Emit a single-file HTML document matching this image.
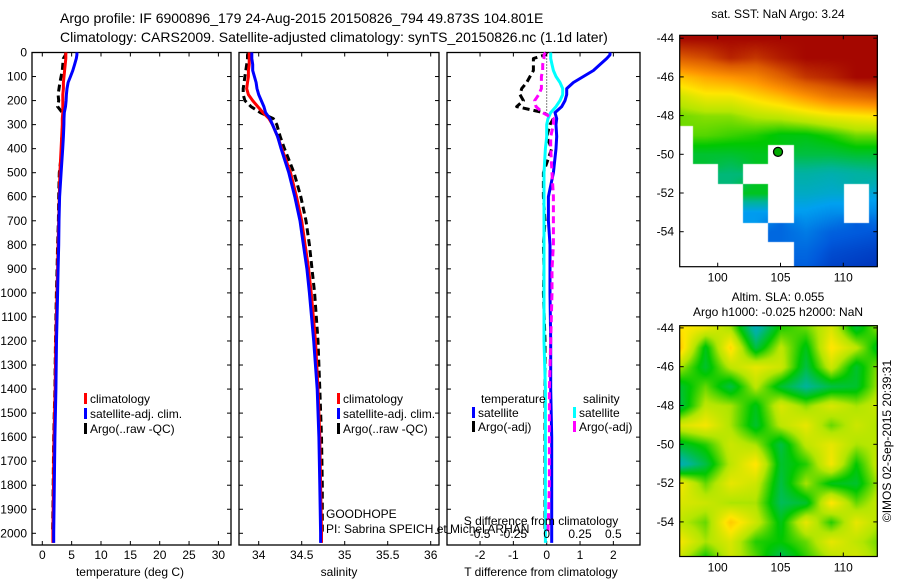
<!DOCTYPE html>
<html><head><meta charset="utf-8">
<style>
body{margin:0;background:#fff;width:900px;height:580px;overflow:hidden;position:relative;font-family:"Liberation Sans",Arial,sans-serif}
svg{position:absolute;left:0;top:0}
canvas{position:absolute}
</style></head>
<body>
<canvas id="sst" width="198" height="232" style="left:680px;top:35px"></canvas>
<canvas id="sla" width="198" height="231" style="left:680px;top:325px"></canvas>
<svg id="chart" width="900" height="580" xmlns="http://www.w3.org/2000/svg" font-family="Liberation Sans, Arial, sans-serif"></svg>
<script>
// ---------- data ----------
const depths = [0,10,25,50,75,100,125,150,175,200,225,250,275,300,350,400,500,600,700,800,900,1000,1200,1400,1600,1800,2000,2040];
const climT  = [4.0,4.0,4.0,3.9,3.8,3.7,3.6,3.6,3.5,3.5,3.5,3.5,3.4,3.4,3.3,3.2,3.0,2.9,2.8,2.7,2.6,2.5,2.3,2.2,2.0,1.9,1.8,1.8];
const satT   = [5.9,5.9,5.8,5.5,5.2,4.8,4.4,4.2,4.1,4.05,3.95,3.75,3.7,3.68,3.6,3.48,3.2,2.95,2.85,2.8,2.7,2.6,2.42,2.32,2.15,2.05,1.95,1.95];
const argoT  = [4.0,3.95,3.6,3.5,3.4,3.2,3.0,2.85,2.7,2.8,2.6,3.4,3.6,3.5,3.3,3.35,2.9,2.8,2.75,2.6,2.52,2.4,2.25,2.15,1.95,1.85,1.75,null];
const climS  = [33.89,33.89,33.89,33.89,33.88,33.88,33.87,33.86,33.88,33.93,33.99,34.05,34.12,34.16,34.22,34.27,34.37,34.44,34.50,34.54,34.58,34.61,34.66,34.69,34.71,34.72,34.73,34.73];
const satS   = [33.92,33.92,33.92,33.93,33.93,33.95,33.97,33.98,34.00,34.03,34.06,34.08,34.13,34.16,34.22,34.26,34.35,34.42,34.48,34.52,34.56,34.59,34.64,34.68,34.70,34.71,34.72,34.72];
const argoS  = [33.88,33.87,33.87,33.86,33.85,33.84,33.83,33.82,33.82,33.84,33.91,34.02,34.17,34.21,34.25,34.30,34.41,34.49,34.55,34.59,34.62,34.65,34.69,34.71,34.73,34.74,34.74,null];
const depthTicks = [0,100,200,300,400,500,600,700,800,900,1000,1100,1200,1300,1400,1500,1600,1700,1800,1900,2000];
const tempTicks = [0,5,10,15,20,25,30];
const salTicks = [34,34.5,35,35.5,36];
const tdiffTicks = [-2,-1,0,1,2];
const sdiffTicks = [-0.5,-0.25,0,0.25,0.5];
const mapLonTicks = [100,105,110];
const mapLatTicks = [-44,-46,-48,-50,-52,-54];
const gridLons = [97,99,101,103,105,107,109,111,113];
const gridLats = [-44,-45,-46,-47,-48,-49,-50,-51,-52,-53,-54,-55,-56];
const N = null;
const sstGrid = [
 [9.5,9.5,9.5,9.5,9.5,9.5,9.5,9.5,9.5],
 [8.6,8.8,9.2,9.0,9.3,9.5,9.5,9.5,9.5],
 [7.3,7.6,7.8,8.0,8.5,9.0,9.2,9.5,9.5],
 [6.5,6.8,6.8,7.1,7.4,7.8,8.2,8.4,8.6],
 [6.0,6.1,6.1,6.3,6.4,6.6,6.8,6.9,7.0],
 [N,5.9,5.8,5.7,5.5,5.5,5.7,6.0,6.0],
 [N,5.3,5.3,5.4,N,5.2,5.2,5.3,5.3],
 [N,N,4.9,N,N,4.6,4.5,4.6,4.7],
 [N,N,N,5.4,N,4.3,4.2,N,4.1],
 [N,N,N,3.8,N,3.8,3.6,N,3.5],
 [N,N,N,N,3.0,3.3,2.9,2.8,2.7],
 [N,N,N,N,N,3.0,2.6,2.5,2.4],
 [N,N,N,N,N,2.8,2.4,2.3,2.2]];
const slaGrid = [
 [0.08,0.06,0.02,-0.12,-0.02,0.0,0.05,-0.05,0.02],
 [0.1,-0.04,0.09,-0.06,0.03,-0.04,0.08,0.03,-0.06],
 [0.02,-0.05,0.03,0.06,0.04,-0.06,0.04,-0.05,0.02],
 [-0.05,0.0,-0.06,0.03,-0.05,-0.1,-0.06,-0.05,0.03],
 [-0.06,0.03,0.02,-0.04,0.05,0.01,0.05,0.02,0.04],
 [0.05,0.07,0.02,-0.05,0.03,0.06,0.0,0.04,0.02],
 [-0.05,-0.02,0.04,0.02,-0.06,0.03,0.06,0.02,0.03],
 [-0.12,-0.06,0.03,0.08,-0.05,-0.02,0.07,-0.03,0.05],
 [0.07,0.0,0.06,0.04,-0.06,0.02,-0.04,-0.05,0.03],
 [0.05,0.04,0.02,0.02,-0.07,-0.05,0.08,0.0,0.04],
 [0.03,0.0,0.1,0.04,-0.04,0.06,-0.02,0.06,0.02],
 [0.07,0.02,0.05,-0.02,-0.03,0.0,0.06,0.03,0.0],
 [0.03,-0.04,0.04,0.0,-0.08,-0.02,0.02,0.05,0.01]];
const argoLon = 104.801, argoLat = -49.873;

// ---------- scales ----------
const Y0=52.5, Y1=545;
const yD = d => Y0 + d*0.2404;
const xT = t => 42.3 + t*5.87;
const xS = s => 258.7 + (s-34)*86;
const xTd = v => 546.7 + v*33.33;
const xSd = v => 546.7 + v*133.3;
const xLon = l => 717.7 + (l-100)*12.56;
const yLat1 = l => 154.3 + (-50-l)*19.35;
const yLat2 = l => 444.3 + (-50-l)*19.4;

const svg = document.getElementById('chart');
const NS='http://www.w3.org/2000/svg';
function mk(tag, attrs, parent){const e=document.createElementNS(NS,tag);for(const k in attrs)e.setAttribute(k,attrs[k]);(parent||svg).appendChild(e);return e;}
function txt(x,y,s,anchor,size){const e=mk('text',{x:x,y:y,'font-size':size||12,'text-anchor':anchor||'start',fill:'#000'});e.textContent=s;return e;}

// titles
let t1=txt(60,23,'Argo profile: IF 6900896_179 24-Aug-2015 20150826_794 49.873S 104.801E','start',14);


let t2=txt(60,42,'Climatology: CARS2009. Satellite-adjusted climatology: synTS_20150826.nc (1.1d later)','start',14);



// panels
const panels=[{x0:32,x1:231,name:'temperature-panel'},{x0:239,x1:439,name:'salinity-panel'},{x0:447,x1:640,name:'difference-panel'}];
panels.forEach(p=>{
  const r=mk('rect',{x:p.x0,y:Y0,width:p.x1-p.x0,height:Y1-Y0,fill:'#fff',stroke:'#000','stroke-width':1.3});
  
  
  depthTicks.forEach(d=>{
    mk('line',{x1:p.x0,x2:p.x0+4,y1:yD(d),y2:yD(d),stroke:'#000'});
    mk('line',{x1:p.x1-4,x2:p.x1,y1:yD(d),y2:yD(d),stroke:'#000'});
  });
});
depthTicks.forEach(d=>{
  const e=txt(27,yD(d)+4,String(d),'end',12);
  
  
});
function xTicks(arr,fx,labelY,fmt){
  arr.forEach(v=>{const x=fx(v);
    mk('line',{x1:x,x2:x,y1:Y0,y2:Y0+4,stroke:'#000'});
    mk('line',{x1:x,x2:x,y1:Y1-4,y2:Y1,stroke:'#000'});
    const e=txt(x,labelY,fmt?fmt(v):String(v),'middle',12);
    
    
  });
}
xTicks(tempTicks,xT,559);
xTicks(salTicks,xS,559);
xTicks(tdiffTicks,xTd,559);
let a1=txt(130,576,'temperature (deg C)','middle',12);
let a2=txt(339,576,'salinity','middle',12);
let a3=txt(541,576,'T difference from climatology','middle',12);

// dotted zero line in difference panel
mk('line',{x1:xTd(0),x2:xTd(0),y1:Y0,y2:yD(250),stroke:'#000','stroke-dasharray':'1,2'});

function series(xs, fx, color, dash, name){
  let pts=[];
  depths.forEach((d,i)=>{ if(xs[i]!==null) pts.push(fx(xs[i]).toFixed(1)+','+yD(d).toFixed(1)); });
  const a={points:pts.join(' '),fill:'none',stroke:color,'stroke-width':3,'stroke-linejoin':'round'};
  if(dash) a['stroke-dasharray']=dash;
  const e=mk('polyline',a);
  
  
}
series(argoT,xT,'#000','7,4','argo-temperature-line');
series(climT,xT,'#f00',null,'climatology-temperature-line');
series(satT,xT,'#00f',null,'satellite-temperature-line');
series(argoS,xS,'#000','7,4','argo-salinity-line');
series(climS,xS,'#f00',null,'climatology-salinity-line');
series(satS,xS,'#00f',null,'satellite-salinity-line');
const dSatT=satT.map((v,i)=>v-climT[i]);
const dArgoT=argoT.map((v,i)=>v===null?null:v-climT[i]);
const dSatS=satS.map((v,i)=>v-climS[i]);
const dArgoS=argoS.map((v,i)=>v===null?null:v-climS[i]);
series(dArgoT,xTd,'#000','7,4','argo-t-difference-line');
series(dSatT,xTd,'#00f',null,'satellite-t-difference-line');
series(dSatS,xSd,'#0ff',null,'satellite-s-difference-line');
series(dArgoS,xSd,'#f0f','7,4','argo-s-difference-line');

// S-diff axis labels inside panel 3
sdiffTicks.forEach(v=>{const e=txt(xSd(v),538,String(v),'middle',12);
  
  });
let sd=txt(541,525,'S difference from climatology','middle',12);
let g1=txt(326,518,'GOODHOPE','start',12);
let g2=txt(326,533,'PI: Sabrina SPEICH et Michel ARHAN','start',12);

// legends
function legend(x,y,color,label,name){
  const m=mk('rect',{x:x,y:y-10,width:3,height:11,fill:color});
  
  
  const e=txt(x+6,y,label,'start',12);
  
  
}
legend(84,403,'#f00','climatology','legend-climatology');
legend(84,418,'#00f','satellite-adj. clim.','legend-satellite');
legend(84,433,'#000','Argo(..raw -QC)','legend-argo');
legend(337,403,'#f00','climatology','legend-sal-climatology');
legend(337,418,'#00f','satellite-adj. clim.','legend-sal-satellite');
legend(337,433,'#000','Argo(..raw -QC)','legend-sal-argo');
let lt=txt(481,403,'temperature','start',12);
let ls=txt(583,403,'salinity','start',12);
legend(472,417,'#00f','satellite','legend-t-satellite');
legend(472,431,'#000','Argo(-adj)','legend-t-argo');
legend(573,417,'#0ff','satellite','legend-s-satellite');
legend(573,431,'#f0f','Argo(-adj)','legend-s-argo');

// ---------- maps ----------
const stops=[[0,[0,0,140]],[0.15,[0,90,220]],[0.28,[0,160,240]],[0.38,[0,180,150]],[0.48,[0,200,0]],[0.56,[180,230,0]],[0.64,[255,230,0]],[0.74,[255,150,0]],[0.84,[220,90,0]],[0.95,[160,0,0]],[1,[150,0,0]]];
function cmap(t){t=Math.max(0,Math.min(1,t));for(let i=1;i<stops.length;i++){if(t<=stops[i][0]){const a=stops[i-1],b=stops[i];const f=(t-a[0])/(b[0]-a[0]);return a[1].map((c,k)=>Math.round(c+(b[1][k]-c)*f));}}return stops[stops.length-1][1];}
function drawMap(id,grid,left,top,yLat,tf){
  const cv=document.getElementById(id),ctx=cv.getContext('2d');
  const W=cv.width,H=cv.height,img=ctx.createImageData(W,H);
  for(let py=0;py<H;py++){
    const lat = -50 - ((top+py) - yLat(-50))/(yLat(-51)-yLat(-50));
    for(let px=0;px<W;px++){
      const lon = 100 + ((left+px) - 717.7)/12.56;
      let gi=(-44-lat), gj=(lon-97)/2;
      gi=Math.max(0,Math.min(gridLats.length-1.001,gi)); gj=Math.max(0,Math.min(gridLons.length-1.001,gj));
      const i0=Math.floor(gi),j0=Math.floor(gj),fi=gi-i0,fj=gj-j0;
      const ni=Math.round(gi),nj=Math.round(gj);
      let col=[255,255,255];
      if(grid[ni][nj]!==null){
        let s=0,w=0;
        [[i0,j0,(1-fi)*(1-fj)],[i0+1,j0,fi*(1-fj)],[i0,j0+1,(1-fi)*fj],[i0+1,j0+1,fi*fj]].forEach(q=>{const v=grid[q[0]][q[1]];if(v!==null){s+=v*q[2];w+=q[2];}});
        col=cmap(tf(s/w));
      }
      const k=(py*W+px)*4;img.data[k]=col[0];img.data[k+1]=col[1];img.data[k+2]=col[2];img.data[k+3]=255;
    }
  }
  ctx.putImageData(img,0,0);
}
drawMap('sst',sstGrid,680,35,yLat1,v=>(v-1.5)/8.5);
drawMap('sla',slaGrid,680,325,yLat2,v=>0.3+(v+0.15)/0.3*0.45);

function mapAxes(top,bottom,yLat,name){
  const r=mk('rect',{x:679.7,y:top,width:197.6,height:bottom-top,fill:'none',stroke:'#000','stroke-width':1.2});
  
  
  mapLonTicks.forEach(l=>{const x=xLon(l);
    mk('line',{x1:x,x2:x,y1:top,y2:top+4,stroke:'#000'});
    mk('line',{x1:x,x2:x,y1:bottom-4,y2:bottom,stroke:'#000'});
    const e=txt(x,bottom+15,String(l),'middle',12);
    
    });
  mapLatTicks.forEach(l=>{const y=yLat(l);
    mk('line',{x1:679.7,x2:683.7,y1:y,y2:y,stroke:'#000'});
    mk('line',{x1:873.3,x2:877.3,y1:y,y2:y,stroke:'#000'});
    const e=txt(674,y+4,String(l),'end',12);
    
    });
}
mapAxes(35.3,266.7,yLat1,'sst-map-frame');
mapAxes(325.7,556.5,yLat2,'sla-map-frame');
const mk1=mk('circle',{cx:xLon(argoLon),cy:yLat1(argoLat),r:4.5,fill:'#0a0',stroke:'#000','stroke-width':1.3});


let m1=txt(778,18,'sat. SST: NaN Argo: 3.24','middle',12);
let m2=txt(778,301,'Altim. SLA: 0.055','middle',12);
let m3=txt(778,316,'Argo h1000: -0.025 h2000: NaN','middle',12);
let im=txt(0,0,'©IMOS 02-Sep-2015 20:39:31','middle',12);
im.setAttribute('transform','translate(891,441) rotate(-90)');


</script>
</body></html>
